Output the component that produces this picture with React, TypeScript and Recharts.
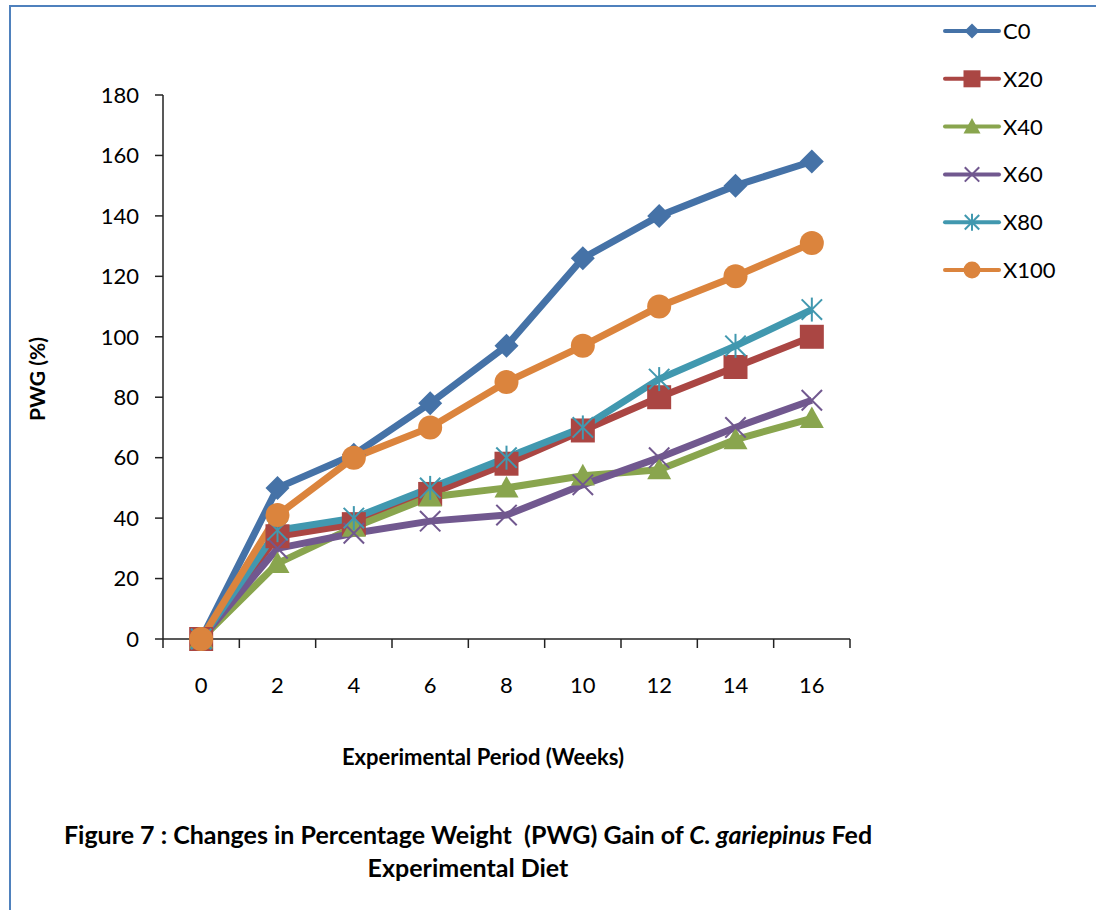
import React from 'react'
import { LineChart, Line, XAxis, YAxis } from 'recharts'

const weeks = [0, 2, 4, 6, 8, 10, 12, 14, 16]
const yTicks = [0, 20, 40, 60, 80, 100, 120, 140, 160, 180]

const c0 = [0, 50, 61, 78, 97, 126, 140, 150, 158]
const x20 = [0, 34, 38, 48, 58, 69, 80, 90, 100]
const x40 = [0, 25, 37, 47, 50, 54, 56, 66, 73]
const x60 = [0, 30, 35, 39, 41, 51, 60, 70, 79]
const x80 = [0, 36, 40, 50, 60, 70, 86, 97, 109]
const x100 = [0, 41, 60, 70, 85, 97, 110, 120, 131]

type Shape = 'diamond' | 'square' | 'triangle' | 'x' | 'star' | 'circle'

const series: { key: string; name: string; values: number[]; color: string; shape: Shape }[] = [
  { key: 'c0', name: 'C0', values: c0, color: '#4572A7', shape: 'diamond' },
  { key: 'x20', name: 'X20', values: x20, color: '#AA4643', shape: 'square' },
  { key: 'x40', name: 'X40', values: x40, color: '#89A54E', shape: 'triangle' },
  { key: 'x60', name: 'X60', values: x60, color: '#71588F', shape: 'x' },
  { key: 'x80', name: 'X80', values: x80, color: '#4198AF', shape: 'star' },
  { key: 'x100', name: 'X100', values: x100, color: '#DB843D', shape: 'circle' },
]

const data = weeks.map((w, i) => {
  const row: Record<string, number> = { week: w }
  series.forEach(s => { row[s.key] = s.values[i] })
  return row
})

// labels on even weeks, tick marks on the odd boundaries between them
const xTickPositions: number[] = []
for (let v = -1; v <= 17; v++) xTickPositions.push(v)

const font = 'Lato, "Open Sans", sans-serif'

function Marker({ shape, cx, cy, size, color }: { shape: Shape; cx: number; cy: number; size: number; color: string }) {
  const h = size / 2
  if (shape === 'diamond') {
    return <polygon points={`${cx},${cy - h} ${cx + h},${cy} ${cx},${cy + h} ${cx - h},${cy}`} fill={color} />
  }
  if (shape === 'square') {
    return <rect x={cx - h} y={cy - h} width={size} height={size} fill={color} />
  }
  if (shape === 'triangle') {
    return <polygon points={`${cx},${cy - h} ${cx + h},${cy + h * 0.8} ${cx - h},${cy + h * 0.8}`} fill={color} />
  }
  if (shape === 'circle') {
    return <circle cx={cx} cy={cy} r={h} fill={color} />
  }
  const d = h * 0.85
  return (
    <g stroke={color} strokeWidth={2}>
      <line x1={cx - d} y1={cy - d} x2={cx + d} y2={cy + d} />
      <line x1={cx - d} y1={cy + d} x2={cx + d} y2={cy - d} />
      {shape === 'star' && <line x1={cx} y1={cy - h} x2={cx} y2={cy + h} />}
    </g>
  )
}

function XTick(props: any) {
  const { x, y, payload } = props
  const v = payload.value
  if (v % 2 !== 0) {
    return <line x1={x} x2={x} y1={y} y2={y + 9} stroke="#222" strokeWidth={1.5} />
  }
  return (
    <text x={x} y={y + 54} textAnchor="middle" fontSize={22} fontFamily={font} fill="#000">
      {v}
    </text>
  )
}

function LegendBox() {
  return (
    <svg width={150} height={290} style={{ position: 'absolute', left: 941, top: 5 }}>
      {series.map((s, i) => {
        const cy = 26 + i * 47.8
        return (
          <g key={s.key}>
            <line x1={4} x2={58} y1={cy} y2={cy} stroke={s.color} strokeWidth={4} strokeLinecap="round" />
            <Marker shape={s.shape} cx={31} cy={cy} size={s.shape === 'diamond' ? 15 : 17} color={s.color} />
            <text x={62} y={cy + 8} fontSize={22} fontFamily={font} fill="#000">
              {s.name}
            </text>
          </g>
        )
      })}
    </svg>
  )
}

export default function App() {
  return (
    <div style={{ position: 'absolute', left: 0, top: 0, width: 1096, height: 910, background: '#fff', overflow: 'hidden' }}>
      <div
        style={{
          position: 'absolute',
          left: 9,
          top: 5,
          width: 1096,
          height: 910,
          borderLeft: '2.5px solid #4F81BD',
          borderTop: '2.5px solid #4F81BD',
        }}
      />
      <LineChart
        width={1096}
        height={910}
        data={data}
        margin={{ top: 95, right: 246, bottom: 231, left: 0 }}
        style={{ position: 'absolute', left: 0, top: 0 }}
      >
        <XAxis
          dataKey="week"
          type="number"
          domain={[-1, 17]}
          ticks={xTickPositions}
          interval={0}
          tickSize={0}
          tickMargin={0}
          tickLine={false}
          tick={<XTick />}
          height={40}
          stroke="#222"
          strokeWidth={1.5}
        />
        <YAxis
          type="number"
          domain={[0, 180]}
          ticks={yTicks}
          interval={0}
          width={163}
          tickSize={8}
          tickMargin={16}
          tick={{ fill: '#000', fontSize: 22, fontFamily: font }}
          stroke="#222"
          strokeWidth={1.5}
        />
        {series.map(s => (
          <Line
            key={s.key}
            dataKey={s.key}
            name={s.name}
            type="linear"
            stroke={s.color}
            strokeWidth={7}
            isAnimationActive={false}
            activeDot={false}
            dot={(p: any) => (
              <Marker key={`${s.key}-${p.index}`} shape={s.shape} cx={p.cx} cy={p.cy} size={24} color={s.color} />
            )}
          />
        ))}
      </LineChart>
      <LegendBox />
      <div
        style={{
          position: 'absolute',
          left: 36,
          top: 379,
          transform: 'translate(-50%, -50%) rotate(-90deg)',
          fontFamily: font,
          fontWeight: 'bold',
          fontSize: 21,
          whiteSpace: 'nowrap',
        }}
      >
        PWG (%)
      </div>
      <div
        style={{
          position: 'absolute',
          left: 483,
          top: 756,
          transform: 'translate(-50%, -50%)',
          fontFamily: font,
          fontWeight: 'bold',
          fontSize: 22,
          whiteSpace: 'nowrap',
        }}
      >
        Experimental Period (Weeks)
      </div>
      <div
        style={{
          position: 'absolute',
          left: 468,
          top: 851,
          transform: 'translate(-50%, -50%)',
          fontFamily: font,
          fontWeight: 'bold',
          fontSize: 25,
          lineHeight: '33px',
          textAlign: 'center',
          whiteSpace: 'nowrap',
        }}
      >
        Figure 7 : Changes in Percentage Weight&nbsp; (PWG) Gain of <i>C. gariepinus</i> Fed
        <br />
        Experimental Diet
      </div>
    </div>
  )
}
